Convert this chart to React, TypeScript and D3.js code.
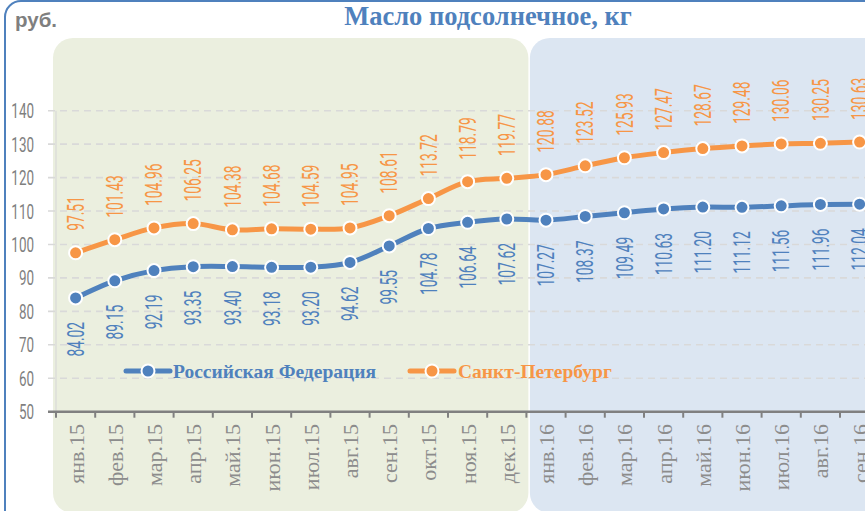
import React from "react";
import * as d3 from "d3";

const months = [
  "янв.15", "фев.15", "мар.15", "апр.15", "май.15", "июн.15", "июл.15", "авг.15", "сен.15", "окт.15", "ноя.15", "дек.15",
  "янв.16", "фев.16", "мар.16", "апр.16", "май.16", "июн.16", "июл.16", "авг.16", "сен.16",
];
const rfValues = [84.02, 89.15, 92.19, 93.35, 93.40, 93.18, 93.20, 94.62, 99.55, 104.78, 106.64, 107.62,
  107.27, 108.37, 109.49, 110.63, 111.20, 111.12, 111.56, 111.96, 112.04];
const spbValues = [97.51, 101.43, 104.96, 106.25, 104.38, 104.68, 104.59, 104.95, 108.61, 113.72, 118.79, 119.77,
  120.88, 123.52, 125.93, 127.47, 128.67, 129.48, 130.06, 130.25, 130.63];
const yTicks = [50, 60, 70, 80, 90, 100, 110, 120, 130, 140];
const seriesNames = ["Российская Федерация", "Санкт-Петербург"];
const title = "Масло подсолнечное, кг";
const unit = "руб.";

const W = 865;
const H = 511;
const BLUE = "#4f81bd";
const ORANGE = "#f79646";
const GRAY = "#7f7f7f";
const NUM_FONT = "Roboto, 'DejaVu Sans', sans-serif";

export default function App() {
  const x0 = 56;
  const step = 39.2;
  const x = d3.scaleBand<string>().domain(months).range([x0, x0 + months.length * step]).padding(0);
  const y = d3.scaleLinear().domain([50, 140]).range([411.7, 110.7]);
  const cx = (m: string) => (x(m) as number) + x.bandwidth() / 2;

  const line = d3
    .line<number>()
    .x((_, i) => cx(months[i]))
    .y((d) => y(d))
    .curve(d3.curveCatmullRom.alpha(0.5));

  const boundaries = d3.range(months.length + 1).map((i) => x0 + i * step);
  const split = x0 + 12 * step;

  const numLabel = (tx: number, ty: number, text: string, color: string, anchor: string, key: string) => (
    <g key={key} transform={`translate(${tx},${ty}) rotate(-90) scale(0.6,1)`}>
      <text x={0} y={0} dy="0.36em" textAnchor={anchor} fill={color} fontFamily={NUM_FONT} fontWeight={400} fontSize={23}>
        {text}
      </text>
    </g>
  );

  const legend = [
    { name: seriesNames[0], color: BLUE, lx: 126, tx: 173 },
    { name: seriesNames[1], color: ORANGE, lx: 410, tx: 458 },
  ];
  const ly = 371;

  return (
    <svg width={W} height={H} style={{ position: "absolute", left: 0, top: 0, display: "block" }}>
      <rect x={0} y={0} width={W} height={H} fill="#ffffff" />
      {/* outer frame */}
      <rect x={5} y={1} width={W + 40} height={H + 40} rx={16} fill="none" stroke={BLUE} strokeWidth={2} />
      {/* background panels */}
      <rect x={x0 - 3} y={38} width={split - x0 + 5} height={H - 38 + 2} rx={20} fill="#ebefdf" />
      <rect x={split + 3.5} y={38} width={W} height={H - 38 + 2} rx={20} fill="#dce6f2" />

      {/* title */}
      <text x={488} y={25} textAnchor="middle" fill={BLUE} fontFamily="'Liberation Serif', 'Times New Roman', serif" fontWeight="bold" fontSize={26.5}>
        {title}
      </text>
      <text x={15} y={27} fill={GRAY} fontFamily="'Liberation Sans', Arial, sans-serif" fontWeight="bold" fontSize={20.5}>
        {unit}
      </text>

      {/* grid */}
      {yTicks.filter((t) => t > 50).map((t) => (
        <line key={t} x1={48} x2={W} y1={y(t)} y2={y(t)} stroke="#d9d9d9" strokeWidth={1.6} strokeDasharray="7,5" />
      ))}
      <line x1={x0} x2={x0} y1={y(140)} y2={y(50)} stroke="#d9d9d9" strokeWidth={1.2} />

      {/* y tick labels */}
      {yTicks.map((t) => (
        <g key={t} transform={`translate(34,${y(t)}) scale(0.64,1)`}>
          <text x={0} y={0} dy="0.36em" textAnchor="end" fill={GRAY} fontFamily={NUM_FONT} fontWeight={400} fontSize={21}>
            {t}
          </text>
        </g>
      ))}

      {/* x axis */}
      <line x1={48} x2={W} y1={y(50)} y2={y(50)} stroke="#808080" strokeWidth={2.5} />
      {boundaries.map((b, i) => (
        <line key={i} x1={b} x2={b} y1={y(50)} y2={y(50) + 6} stroke="#808080" strokeWidth={2} />
      ))}
      {months.map((m) => (
        <text
          key={m}
          transform={`translate(${cx(m)},424) rotate(-90)`}
          dy="0.36em"
          textAnchor="end"
          fill="#8c8c8c"
          fontFamily="'Liberation Serif', 'Times New Roman', serif"
          fontSize={22}
        >
          {m}
        </text>
      ))}

      {/* lines */}
      <path d={line(rfValues) || ""} fill="none" stroke={BLUE} strokeWidth={5} strokeLinecap="round" />
      <path d={line(spbValues) || ""} fill="none" stroke={ORANGE} strokeWidth={5} strokeLinecap="round" />
      {rfValues.map((v, i) => (
        <circle key={"rc" + i} cx={cx(months[i])} cy={y(v)} r={6.5} fill={BLUE} stroke="#fff" strokeWidth={2} />
      ))}
      {spbValues.map((v, i) => (
        <circle key={"sc" + i} cx={cx(months[i])} cy={y(v)} r={6.5} fill={ORANGE} stroke="#fff" strokeWidth={2} />
      ))}

      {/* data labels */}
      {spbValues.map((v, i) => numLabel(cx(months[i]), y(v) - 22, v.toFixed(2), ORANGE, "start", "sl" + i))}
      {rfValues.map((v, i) => numLabel(cx(months[i]), y(v) + 24, v.toFixed(2), BLUE, "end", "rl" + i))}

      {/* legend */}
      {legend.map((l) => (
        <g key={l.name}>
          <line x1={l.lx} x2={l.lx + 44} y1={ly} y2={ly} stroke={l.color} strokeWidth={5} strokeLinecap="round" />
          <circle cx={l.lx + 22} cy={ly} r={6.5} fill={l.color} stroke="#fff" strokeWidth={2} />
          <text x={l.tx} y={ly} dy="0.35em" fill={l.color} fontFamily="'Liberation Serif', 'Times New Roman', serif" fontWeight="bold" fontSize={19.5}>
            {l.name}
          </text>
        </g>
      ))}
    </svg>
  );
}
